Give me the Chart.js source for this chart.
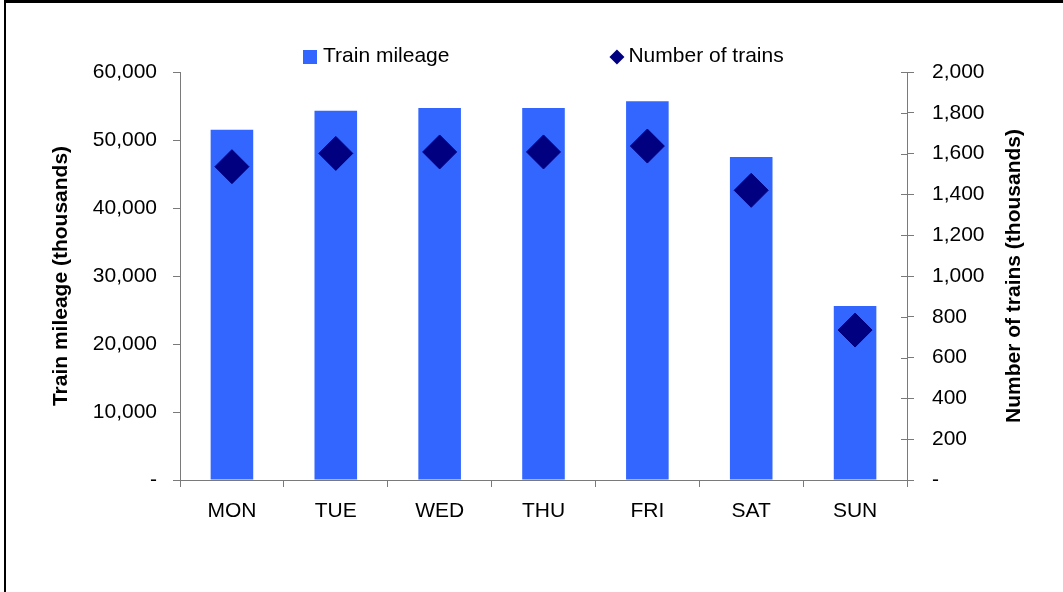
<!DOCTYPE html>
<html>
<head>
<meta charset="utf-8">
<script src="https://cdn.jsdelivr.net/npm/chart.js@4/dist/chart.umd.min.js"></script>
<style>
  html, body { margin: 0; padding: 0; background: #fff; }
  #wrap { position: relative; width: 1063px; height: 592px; overflow: hidden; background: #fff; }
  #frame { position: absolute; left: 4px; top: 0; width: 1200px; height: 800px;
           border-left: 2px solid #000; border-top: 3px solid #000; }
  #c { position: absolute; left: 0; top: 0; }
</style>
</head>
<body>
<div id="wrap">
  <div id="frame"></div>
  <canvas id="c" width="1063" height="592"></canvas>
</div>
<script>
// Weekly train mileage and train counts by day of week
const days = ['MON', 'TUE', 'WED', 'THU', 'FRI', 'SAT', 'SUN'];
const trainMileage = [51500, 54300, 54700, 54700, 55700, 47500, 25600];
const numberOfTrains = [1536, 1601, 1608, 1608, 1637, 1420, 735];

const mileageLabel = 'Train mileage';
const trainsLabel = 'Number of trains';
const leftTitle = 'Train mileage (thousands)';
const rightTitle = 'Number of trains (thousands)';

const BAR_COLOR = '#3366FF';
const DIAMOND_COLOR = '#000080';
const AXIS_COLOR = '#7a7a7a';
const FONT = "'Liberation Sans', Arial, sans-serif";
const FONT_SIZE = 21;

const fmt = v => v === 0 ? '-' : Number(v).toLocaleString('en-US');

// Right-axis tick marks cross the axis line; draw the inner half here.
const innerTicks = {
  id: 'innerTicks',
  afterDraw(chart) {
    const s = chart.scales.y1;
    const ctx = chart.ctx;
    ctx.save();
    ctx.strokeStyle = AXIS_COLOR;
    ctx.lineWidth = 1;
    s.ticks.forEach(t => {
      const y = Math.round(s.getPixelForValue(t.value)) + 0.5;
      ctx.beginPath();
      ctx.moveTo(s.left - 6, y);
      ctx.lineTo(s.left, y);
      ctx.stroke();
    });
    ctx.restore();
  }
};

// Right axis title, reading bottom-to-top like the left one.
const rightAxisTitle = {
  id: 'rightAxisTitle',
  afterDraw(chart) {
    const a = chart.chartArea;
    const ctx = chart.ctx;
    ctx.save();
    ctx.translate(chart.width - 49, (a.top + a.bottom) / 2);
    ctx.rotate(-Math.PI / 2);
    ctx.font = 'bold ' + FONT_SIZE + 'px ' + FONT;
    ctx.fillStyle = '#000';
    ctx.textAlign = 'center';
    ctx.textBaseline = 'middle';
    ctx.fillText(rightTitle, 0, 0);
    ctx.restore();
  }
};

// Legend: blue square for the bars, navy diamond for the train counts.
const topLegend = {
  id: 'topLegend',
  afterDraw(chart) {
    const a = chart.chartArea;
    const ctx = chart.ctx;
    ctx.save();
    ctx.font = FONT_SIZE + 'px ' + FONT;
    ctx.textBaseline = 'middle';
    ctx.fillStyle = '#000';
    const w1 = ctx.measureText(mileageLabel).width;
    const w2 = ctx.measureText(trainsLabel).width;
    const box = 14, gapBox = 6, gapItems = 160, dia = 15, gapDia = 4;
    const total = box + gapBox + w1 + gapItems + dia + gapDia + w2;
    const cy = a.top - 16;
    let x = Math.round((a.left + a.right) / 2 - total / 2);
    ctx.fillStyle = BAR_COLOR;
    ctx.fillRect(x, cy - 6, box, box);
    x += box + gapBox;
    ctx.fillStyle = '#000';
    ctx.fillText(mileageLabel, x, cy);
    x += w1 + gapItems;
    ctx.fillStyle = DIAMOND_COLOR;
    ctx.beginPath();
    ctx.moveTo(x + dia / 2, cy - dia / 2 + 1);
    ctx.lineTo(x + dia, cy + 1);
    ctx.lineTo(x + dia / 2, cy + dia / 2 + 1);
    ctx.lineTo(x, cy + 1);
    ctx.closePath();
    ctx.fill();
    x += dia + gapDia;
    ctx.fillStyle = '#000';
    ctx.fillText(trainsLabel, x, cy);
    ctx.restore();
  }
};

new Chart(document.getElementById('c'), {
  type: 'bar',
  data: {
    labels: days,
    datasets: [
      {
        type: 'line',
        label: trainsLabel,
        data: numberOfTrains,
        yAxisID: 'y1',
        showLine: false,
        pointStyle: 'rectRot',
        pointRadius: 17,
        pointHoverRadius: 17,
        pointBackgroundColor: DIAMOND_COLOR,
        pointBorderColor: DIAMOND_COLOR,
        pointBorderWidth: 1,
        order: 0
      },
      {
        type: 'bar',
        label: mileageLabel,
        data: trainMileage,
        yAxisID: 'y',
        backgroundColor: BAR_COLOR,
        borderWidth: 0,
        barPercentage: 0.41,
        categoryPercentage: 1.0,
        order: 1
      }
    ]
  },
  options: {
    responsive: false,
    animation: false,
    devicePixelRatio: 1,
    layout: { padding: { top: 72, left: 0, right: 0, bottom: 0 } },
    plugins: {
      legend: { display: false },
      tooltip: { enabled: false },
      title: { display: false }
    },
    scales: {
      x: {
        offset: true,
        grid: { display: true, offset: true, drawOnChartArea: false, drawTicks: true, tickLength: 7, color: AXIS_COLOR },
        border: { display: true, color: AXIS_COLOR, width: 1 },
        ticks: { color: '#000', font: { family: FONT, size: FONT_SIZE }, padding: 12, maxRotation: 0 },
        afterFit(s) { s.height = 112; }
      },
      y: {
        position: 'left',
        min: 0,
        max: 60000,
        ticks: { stepSize: 10000, color: '#000', font: { family: FONT, size: FONT_SIZE }, padding: 16, callback: fmt },
        grid: { display: true, drawOnChartArea: false, drawTicks: true, tickLength: 7, color: AXIS_COLOR },
        border: { display: true, color: AXIS_COLOR, width: 1 },
        title: { display: true, text: leftTitle, color: '#000', font: { family: FONT, size: FONT_SIZE, weight: 'bold' }, padding: { top: 49, bottom: 0 } },
        afterFit(s) { s.width = 180; }
      },
      y1: {
        position: 'right',
        min: 0,
        max: 2000,
        ticks: { stepSize: 200, color: '#000', font: { family: FONT, size: FONT_SIZE }, padding: 18, callback: fmt },
        grid: { display: true, drawOnChartArea: false, drawTicks: true, tickLength: 7, color: AXIS_COLOR },
        border: { display: true, color: AXIS_COLOR, width: 1 },
        afterFit(s) { s.width = 156; }
      }
    }
  },
  plugins: [innerTicks, rightAxisTitle, topLegend]
});
</script>
</body>
</html>
